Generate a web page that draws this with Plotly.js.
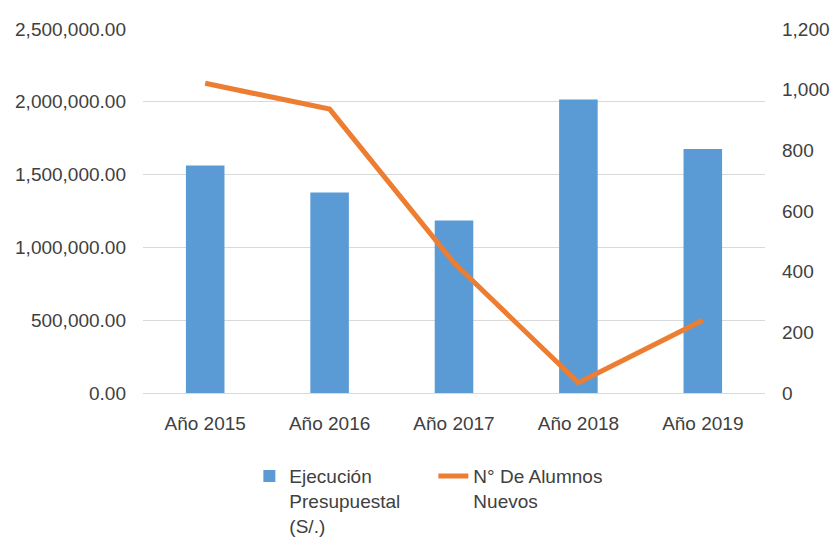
<!DOCTYPE html>
<html>
<head>
<meta charset="utf-8">
<script src="https://cdn.plot.ly/plotly-3.0.1.min.js"></script>
<style>html,body{margin:0;padding:0;background:#fff;}#chart{width:834px;height:545px;}</style>
</head>
<body>
<div id="chart"></div>
<script>
const categories = ["Año 2015", "Año 2016", "Año 2017", "Año 2018", "Año 2019"];
const ejecucion = [1562000, 1377000, 1185000, 2015000, 1675000];
const alumnos = [1021, 936, 429, 34, 240];
const leftTicks = [0, 500000, 1000000, 1500000, 2000000, 2500000];
const rightTicks = [0, 200, 400, 600, 800, 1000, 1200];

const font = {family: "Liberation Sans, Arial, sans-serif", size: 19, color: "#404040"};

const data = [
  {
    type: "bar", x: categories, y: ejecucion,
    name: "Ejecución<br>Presupuestal<br>(S/.)",
    marker: {color: "#5B9BD5"}, yaxis: "y", hoverinfo: "x+y"
  },
  {
    type: "scatter", mode: "lines", x: categories, y: alumnos,
    name: "N° De Alumnos<br>Nuevos",
    line: {color: "#ED7D31", width: 5}, yaxis: "y2"
  }
];

const layout = {
  width: 834, height: 545,
  margin: {l: 143, r: 69, t: 29, b: 151.5, autoexpand: false},
  paper_bgcolor: "#ffffff", plot_bgcolor: "#ffffff",
  font: font,
  bargap: 0.69,
  showlegend: true,
  legend: {orientation: "h", x: 0.171, xanchor: "left", y: -0.176, yanchor: "top",
           font: font, entrywidth: 139, valign: "top", traceorder: "normal"},
  xaxis: {type: "category", showgrid: false, showline: true, linecolor: "#D9D9D9", linewidth: 1,
          ticks: "", tickfont: font, ticklabelstandoff: 13, zeroline: false},
  yaxis: {range: [0, 2500000], tickvals: leftTicks, tickformat: ",.2f", showgrid: true,
          gridcolor: "#D9D9D9", gridwidth: 1, zeroline: false, showline: false, ticks: "",
          tickfont: font, ticklabelstandoff: 16},
  yaxis2: {range: [0, 1200], tickvals: rightTicks, tickformat: ",d", overlaying: "y", side: "right",
           showgrid: false, zeroline: false, showline: false, ticks: "", tickfont: font,
           ticklabelstandoff: 16}
};

Plotly.newPlot("chart", data, layout, {displayModeBar: false, staticPlot: true});
</script>
</body>
</html>
